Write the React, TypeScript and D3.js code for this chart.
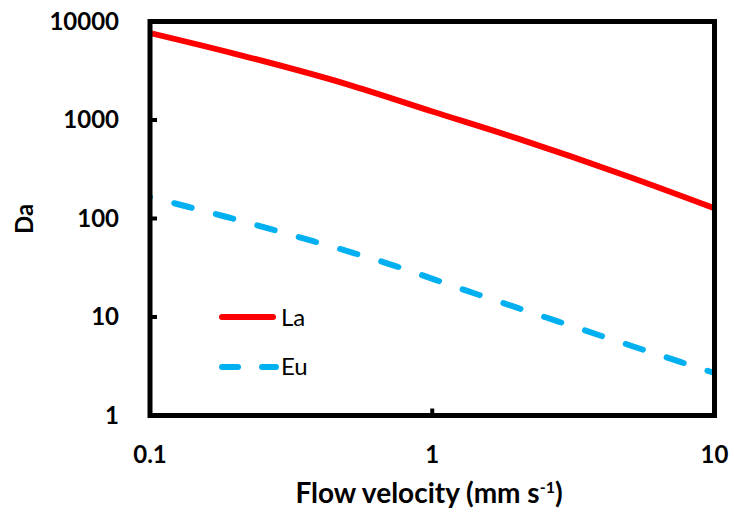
import React from "react";
import * as d3 from "d3";

const velocity = [0.1, 0.2, 0.5, 1, 2, 5, 10];
const laValues = [7640, 4700, 2300, 1220, 650, 264, 127];
const euVelocity = [0.1, 0.1815, 0.355, 0.687, 1.33, 2.52, 4.88, 10];
const euValues = [165, 106, 62, 35.3, 18.4, 9.94, 5.29, 2.7];
const xTicks = [0.1, 1, 10];
const yTicks = [1, 10, 100, 1000, 10000];
const seriesNames = ["La", "Eu"];
const xTitle = "Flow velocity (mm s";
const yTitle = "Da";

const W = 734;
const H = 520;
const L = 150, R = 714.5, T = 21.5, B = 415.5;
const FONT = "Lato, 'Open Sans', sans-serif";

export default function App() {
  const x = d3.scaleLog().domain([0.1, 10]).range([L, R]);
  const y = d3.scaleLog().domain([1, 10000]).range([B, T]);
  const line = d3
    .line<[number, number]>()
    .x((d) => x(d[0]))
    .y((d) => y(d[1]))
    .curve(d3.curveMonotoneX);
  const laPts = velocity.map((v, i) => [v, laValues[i]] as [number, number]);
  const euPts = euVelocity.map((v, i) => [v, euValues[i]] as [number, number]);

  return (
    <svg
      width={W}
      height={H}
      style={{ position: "absolute", left: 0, top: 0, background: "#fff" }}
      fontFamily={FONT}
    >
      <defs>
        <clipPath id="plotclip">
          <rect x={L} y={T} width={R - L} height={B - T} />
        </clipPath>
      </defs>
      <g clipPath="url(#plotclip)">
        <path d={line(laPts) || ""} fill="none" stroke="#ff0000" strokeWidth={6} />
        <path
          d={line(euPts) || ""}
          fill="none"
          stroke="#00b0f0"
          strokeWidth={6}
          strokeLinecap="round"
          strokeDasharray="0.01 25 16 2"
        />
      </g>
      {yTicks.slice(1, -1).map((t) => (
        <line key={"yt" + t} x1={L} x2={L + 7} y1={y(t)} y2={y(t)} stroke="#000" strokeWidth={4} />
      ))}
      {xTicks.slice(1, -1).map((t) => (
        <line key={"xt" + t} x1={x(t)} x2={x(t)} y1={B} y2={B - 7} stroke="#000" strokeWidth={4} />
      ))}
      <rect x={L} y={T} width={R - L} height={B - T} fill="none" stroke="#000" strokeWidth={5} />
      {yTicks.map((t) => (
        <text
          key={"yl" + t}
          x={119}
          y={y(t)}
          dy="0.35em"
          textAnchor="end"
          fontSize={24}
          fontWeight="bold"
        >
          {String(t)}
        </text>
      ))}
      {xTicks.map((t) => (
        <text
          key={"xl" + t}
          x={x(t)}
          y={463}
          textAnchor="middle"
          fontSize={24}
          fontWeight="bold"
        >
          {String(t)}
        </text>
      ))}
      <text x={429} y={503} textAnchor="middle" fontSize={28} fontWeight="bold">
        {xTitle}
        <tspan fontSize={16} dy={-10}>-1</tspan>
        <tspan dy={10}>)</tspan>
      </text>
      <text
        transform="translate(33,219) rotate(-90)"
        textAnchor="middle"
        fontSize={24}
        fontWeight="bold"
      >
        {yTitle}
      </text>
      <line x1={222} x2={273} y1={317} y2={317} stroke="#ff0000" strokeWidth={6} strokeLinecap="round" />
      <text x={281} y={326} fontSize={24}>{seriesNames[0]}</text>
      <line
        x1={222}
        x2={276}
        y1={367}
        y2={367}
        stroke="#00b0f0"
        strokeWidth={6}
        strokeLinecap="round"
        strokeDasharray="16 24"
      />
      <text x={281} y={375} fontSize={24}>{seriesNames[1]}</text>
    </svg>
  );
}
